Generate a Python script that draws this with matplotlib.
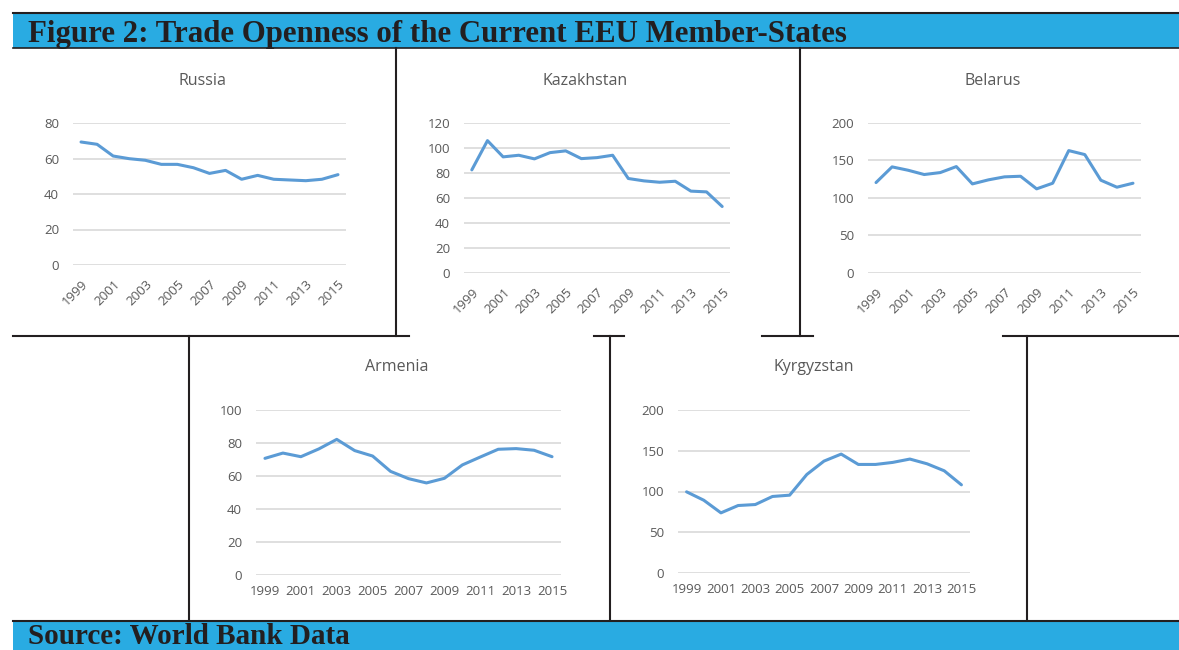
import matplotlib.pyplot as plt
from matplotlib.patches import Rectangle

# Trade openness (% of GDP)
years = list(range(1999, 2016))
russia = [69.3, 68.0, 61.4, 59.9, 59.0, 56.7, 56.7, 54.8, 51.6, 53.3, 48.3, 50.5, 48.3, 47.9, 47.5, 48.3, 50.9]
kazakhstan = [82.5, 105.9, 92.9, 94.2, 91.3, 96.3, 97.7, 91.5, 92.3, 94.2, 75.6, 73.7, 72.6, 73.4, 65.5, 64.9, 53.2]
belarus = [120.6, 141.5, 137.0, 131.3, 133.9, 141.9, 118.8, 124.2, 128.2, 129.0, 112.2, 119.7, 163.2, 157.9, 123.7, 114.4, 119.7]
armenia = [70.7, 73.9, 71.7, 76.4, 82.2, 75.4, 72.1, 62.8, 58.4, 55.8, 58.6, 66.7, 71.5, 76.2, 76.6, 75.6, 71.7]
kyrgyzstan = [99.6, 89.3, 73.8, 82.8, 84.0, 93.9, 95.5, 120.9, 137.3, 145.9, 133.2, 133.2, 135.7, 139.8, 134.0, 125.4, 108.2]

fig_title = "Figure 2: Trade Openness of the Current EEU Member-States"
source_text = "Source: World Bank Data"

W, H = 1179, 650
BLUE = '#29ABE2'
DARK = '#231F20'
LINE = '#5B9BD5'
GRAY = '#595959'
GRID = '#D9D9D9'

fig = plt.figure(figsize=(W / 100, H / 100), dpi=100)

# background layer in pixel coordinates for bands and table borders
bg = fig.add_axes([0, 0, 1, 1])
bg.set_xlim(0, W)
bg.set_ylim(H, 0)
bg.axis('off')

bg.add_patch(Rectangle((13, 12), W - 13, 36, color=BLUE, lw=0))
bg.plot([13, W], [12.5, 12.5], color=DARK, lw=1.5)
bg.plot([13, W], [48, 48], color=DARK, lw=1.2)
bg.add_patch(Rectangle((13, 620), W - 13, 30, color=BLUE, lw=0))
bg.plot([13, W], [620.5, 620.5], color=DARK, lw=1.5)

# table borders
for x in [396, 800]:
    bg.plot([x, x], [48, 336], color=DARK, lw=1.5)
for x in [189, 610, 1027]:
    bg.plot([x, x], [336, 620], color=DARK, lw=1.5)
for x0, x1 in [(13, 409), (594, 624), (762, 813), (1003, W)]:
    bg.plot([x0, x1], [336, 336], color=DARK, lw=1.5)

bg.text(28, 42, fig_title, fontsize=22.2, fontweight='bold', family='Liberation Serif',
        color=DARK, va='baseline', ha='left')
bg.text(28, 643.5, source_text, fontsize=21, fontweight='bold', family='Liberation Serif',
        color=DARK, va='baseline', ha='left')


def chart(name, values, box, ymax, ystep, rotated, title_pos):
    x0, y0, x1, y1 = box
    ax = fig.add_axes([x0 / W, 1 - y1 / H, (x1 - x0) / W, (y1 - y0) / H])
    idx = list(range(len(years)))
    ax.plot(idx, values, color=LINE, lw=2.2, solid_capstyle='round', zorder=3)
    ax.set_xlim(-0.5, len(years) - 0.5)
    ax.set_ylim(0, ymax)
    ax.set_yticks(range(0, ymax + 1, ystep))
    ax.grid(axis='y', color=GRID, lw=1.2)
    ax.set_axisbelow(True)
    for s in ax.spines.values():
        s.set_visible(False)
    ax.set_xticks(idx[::2])
    ax.set_xticklabels([str(y) for y in years[::2]])
    ax.tick_params(length=0, labelcolor=GRAY, labelsize=9.5)
    ax.tick_params(axis='y', pad=10)
    for t in ax.get_yticklabels() + ax.get_xticklabels():
        t.set_family('Open Sans')
    if rotated:
        ax.tick_params(axis='x', pad=9)
        for t in ax.get_xticklabels():
            t.set_rotation(45)
            t.set_ha('right')
            t.set_rotation_mode('anchor')
    else:
        ax.tick_params(axis='x', pad=7)
    ax.patch.set_alpha(0)
    fig.text(title_pos[0] / W, 1 - title_pos[1] / H, name, ha='center', va='center',
             fontsize=11.5, color=GRAY, family='Open Sans')


chart('Russia', russia, (73, 123, 346, 265), 80, 20, True, (202, 81))
chart('Kazakhstan', kazakhstan, (464, 123, 730, 273), 120, 20, True, (585, 81))
chart('Belarus', belarus, (868, 123, 1141, 273), 200, 50, True, (993, 81))
chart('Armenia', armenia, (256, 410, 561, 575), 100, 20, False, (397, 367))
chart('Kyrgyzstan', kyrgyzstan, (678, 410, 970, 573), 200, 50, False, (814, 367))

fig.savefig('out.png', dpi=100)
